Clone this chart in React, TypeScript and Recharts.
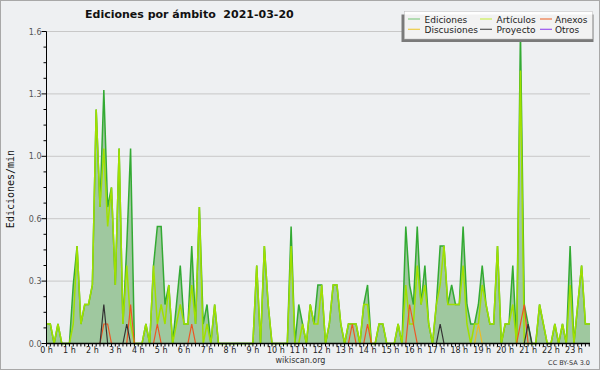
import React from "react";
import { ComposedChart, Area, Line, XAxis, YAxis, CartesianGrid, ReferenceLine } from "recharts";

// 10-minute buckets, edits per minute
const HOUR_LABELS = [
  "0 h", "1 h", "2 h", "3 h", "4 h", "5 h", "6 h", "7 h", "8 h", "9 h", "10 h", "11 h",
  "12 h", "13 h", "14 h", "15 h", "16 h", "17 h", "18 h", "19 h", "20 h", "21 h", "22 h", "23 h",
];

const Y_TICKS = [0, 0.32, 0.64, 0.96, 1.28, 1.6];

const ediciones = [
  0.1, 0.1, 0, 0.1, 0, 0, 0, 0.3, 0.5, 0.1, 0.2, 0.2,
  0.3, 1.2, 0.7, 1.3, 0.7, 0.8, 0.3, 1.0, 0.1, 0.5, 1.0, 0,
  0, 0, 0.1, 0, 0.4, 0.6, 0.6, 0.2, 0.3, 0, 0.2, 0.4,
  0.1, 0.1, 0.5, 0.1, 0.7, 0.1, 0.2, 0, 0.2, 0, 0, 0,
  0, 0, 0, 0, 0, 0, 0, 0.4, 0, 0.5, 0.2, 0,
  0, 0, 0, 0, 0.6, 0, 0.2, 0.1, 0, 0.2, 0.1, 0.3,
  0.3, 0, 0.1, 0.3, 0.3, 0.1, 0, 0.1, 0.1, 0.1, 0, 0.2,
  0.3, 0, 0, 0.1, 0.1, 0, 0, 0, 0.1, 0, 0.6, 0.3,
  0.2, 0.6, 0.2, 0.4, 0.1, 0, 0.2, 0.5, 0.5, 0.2, 0.3, 0.2,
  0.2, 0.6, 0.2, 0.1, 0.1, 0.2, 0.4, 0.2, 0.1, 0.1, 0.5, 0,
  0.1, 0.1, 0.4, 0, 1.6, 0.2, 0.1, 0, 0, 0.2, 0.1, 0,
  0, 0.1, 0, 0.1, 0, 0.5, 0, 0.2, 0.4, 0.1, 0.1, 0.1,
];

const articulos = [
  0.1, 0.1, 0, 0.1, 0, 0, 0, 0.1, 0.5, 0.1, 0.2, 0.2,
  0.3, 1.2, 0.7, 1.0, 0.6, 0.8, 0.3, 1.0, 0.1, 0.4, 0.1, 0,
  0, 0, 0.1, 0, 0.4, 0.1, 0.2, 0.1, 0.3, 0, 0.1, 0.2,
  0.1, 0.1, 0.3, 0.1, 0.7, 0, 0.1, 0, 0.2, 0, 0, 0,
  0, 0, 0, 0, 0, 0, 0, 0.4, 0, 0.5, 0.2, 0,
  0, 0, 0, 0, 0.5, 0, 0, 0.1, 0, 0.2, 0.1, 0.1,
  0.3, 0, 0.1, 0.3, 0.3, 0.1, 0, 0.1, 0.1, 0.1, 0, 0.2,
  0.2, 0, 0, 0.1, 0.1, 0, 0, 0, 0.1, 0, 0.3, 0.1,
  0.1, 0.4, 0.2, 0.3, 0.1, 0, 0.2, 0.3, 0.5, 0.2, 0.2, 0.2,
  0.2, 0.4, 0.1, 0, 0.1, 0.1, 0.3, 0.2, 0.1, 0.1, 0.5, 0,
  0.1, 0.1, 0.2, 0, 1.4, 0, 0, 0, 0, 0.2, 0.1, 0,
  0, 0.1, 0, 0.1, 0, 0.3, 0, 0.2, 0.4, 0.1, 0.1, 0.1,
];

const anexos = [
  0, 0, 0, 0, 0, 0, 0, 0, 0, 0, 0, 0,
  0, 0, 0, 0.1, 0.1, 0, 0, 0, 0, 0, 0.2, 0,
  0, 0, 0, 0, 0, 0.1, 0, 0, 0, 0, 0, 0,
  0, 0, 0.1, 0, 0, 0, 0, 0, 0, 0, 0, 0,
  0, 0, 0, 0, 0, 0, 0, 0, 0, 0, 0, 0,
  0, 0, 0, 0, 0, 0, 0, 0, 0, 0, 0, 0,
  0, 0, 0, 0, 0, 0, 0, 0, 0.1, 0, 0, 0,
  0.1, 0, 0, 0, 0, 0, 0, 0, 0, 0, 0, 0.2,
  0.1, 0, 0, 0, 0, 0, 0, 0, 0, 0, 0, 0,
  0, 0, 0, 0, 0, 0, 0, 0, 0, 0, 0, 0,
  0, 0, 0, 0, 0.1, 0.2, 0, 0, 0, 0, 0, 0,
  0, 0, 0, 0, 0, 0, 0, 0, 0, 0, 0, 0,
];

const discusiones = [
  0, 0, 0, 0, 0, 0, 0, 0, 0, 0, 0, 0,
  0, 0, 0, 0, 0, 0, 0, 0, 0, 0, 0, 0,
  0, 0, 0, 0, 0, 0, 0, 0, 0, 0, 0, 0,
  0, 0, 0, 0, 0, 0, 0, 0, 0, 0, 0, 0,
  0, 0, 0, 0, 0, 0, 0, 0, 0, 0, 0, 0,
  0, 0, 0, 0, 0, 0, 0, 0, 0, 0, 0, 0,
  0, 0, 0, 0, 0, 0, 0, 0, 0, 0, 0, 0,
  0, 0, 0, 0, 0, 0, 0, 0, 0, 0, 0, 0,
  0, 0, 0, 0, 0, 0, 0, 0, 0, 0, 0, 0,
  0, 0, 0, 0, 0, 0.1, 0, 0, 0, 0, 0, 0,
  0, 0, 0, 0, 0, 0, 0, 0, 0, 0, 0, 0,
  0, 0, 0, 0, 0, 0, 0, 0, 0, 0, 0, 0,
];

const proyecto = [
  0, 0, 0, 0, 0, 0, 0, 0, 0, 0, 0, 0,
  0, 0, 0, 0.2, 0, 0, 0, 0, 0, 0.1, 0, 0,
  0, 0, 0, 0, 0, 0, 0, 0, 0, 0, 0, 0,
  0, 0, 0, 0, 0, 0, 0, 0, 0, 0, 0, 0,
  0, 0, 0, 0, 0, 0, 0, 0, 0, 0, 0, 0,
  0, 0, 0, 0, 0, 0, 0, 0, 0, 0, 0, 0,
  0, 0, 0, 0, 0, 0, 0, 0, 0, 0, 0, 0,
  0, 0, 0, 0, 0, 0, 0, 0, 0, 0, 0, 0,
  0, 0, 0, 0, 0, 0, 0, 0.1, 0, 0, 0, 0,
  0, 0, 0, 0, 0, 0, 0, 0, 0, 0, 0, 0,
  0, 0, 0, 0, 0, 0, 0.1, 0, 0, 0, 0, 0,
  0, 0, 0, 0, 0, 0, 0, 0, 0, 0, 0, 0,
];

const otros = [
  0, 0, 0, 0, 0, 0, 0, 0, 0, 0, 0, 0,
  0, 0, 0, 0, 0, 0, 0, 0, 0, 0, 0, 0,
  0, 0, 0, 0, 0, 0, 0, 0, 0, 0, 0, 0,
  0, 0, 0, 0, 0, 0, 0, 0, 0, 0, 0, 0,
  0, 0, 0, 0, 0, 0, 0, 0, 0, 0, 0, 0,
  0, 0, 0, 0, 0, 0, 0, 0, 0, 0, 0, 0,
  0, 0, 0, 0, 0, 0, 0, 0, 0, 0, 0, 0,
  0, 0, 0, 0, 0, 0, 0, 0, 0, 0, 0, 0,
  0, 0, 0, 0, 0, 0, 0, 0, 0, 0, 0, 0,
  0, 0, 0, 0, 0, 0, 0, 0, 0, 0, 0, 0,
  0, 0, 0, 0, 0, 0, 0, 0, 0, 0, 0, 0,
  0, 0, 0, 0, 0, 0, 0, 0, 0, 0, 0, 0,
];

const LEGEND = [
  { name: "Ediciones", color: "#88cc88", col: 0, row: 0 },
  { name: "Artículos", color: "#ccee55", col: 1, row: 0 },
  { name: "Anexos", color: "#ee7744", col: 2, row: 0 },
  { name: "Discusiones", color: "#eecc44", col: 0, row: 1 },
  { name: "Proyecto", color: "#555555", col: 1, row: 1 },
  { name: "Otros", color: "#9955ee", col: 2, row: 1 },
];

const data = ediciones.map((ed, t) => ({
  t,
  ed,
  art: articulos[t],
  anx: anexos[t],
  dis: discusiones[t],
  pro: proyecto[t],
  otr: otros[t],
}));

const xTicks = data.slice(0, 143).map((d) => d.t);

// three minor ticks between each labelled tick
const yAllTicks = Y_TICKS.flatMap((v, i) =>
  i === 0 ? [v] : [1, 2, 3, 4].map((k) => Y_TICKS[i - 1] + ((v - Y_TICKS[i - 1]) * k) / 4)
);

const BG = "#eef0f2";
const FONT = "DejaVu Sans, sans-serif";

function YTick(props: any) {
  const { x, y, payload } = props;
  const major = Y_TICKS.some((v) => Math.abs(v - payload.value) < 1e-6);
  return (
    <g>
      <line x1={x - (major ? 5 : 3)} x2={x} y1={y} y2={y} stroke="#000" />
      {major && (
        <text x={x - 5} y={y + 3} textAnchor="end" fontSize={8} fontFamily={FONT} fill="#555">
          {payload.value.toFixed(1)}
        </text>
      )}
    </g>
  );
}

function XTick(props: any) {
  const { x, y, payload } = props;
  const t = payload.value;
  return (
    <g>
      <line x1={x} x2={x} y1={y} y2={y + 3} stroke="#000" />
      {t % 6 === 0 && (
        <text x={x} y={y + 9.5} textAnchor="middle" fontSize={8} fontFamily={FONT} fill="#222">
          {HOUR_LABELS[t / 6]}
        </text>
      )}
    </g>
  );
}

export default function App() {
  return (
    <div style={{ position: "absolute", left: 0, top: 0, width: 600, height: 370, background: BG }}>
      <ComposedChart
        width={600}
        height={370}
        data={data}
        margin={{ top: 31.5, right: 10, left: 0, bottom: 12.5 }}
      >
        <CartesianGrid
          vertical={false}
          horizontalValues={[0.32, 0.64, 0.96, 1.28, 1.6]}
          stroke="#c8c8c8"
        />
        <Area
          type="linear"
          dataKey="ed"
          stroke="#33aa33"
          strokeWidth={1.5}
          fill="#9fc89f"
          fillOpacity={1}
          dot={false}
          activeDot={false}
          isAnimationActive={false}
        />
        <Line type="linear" dataKey="art" stroke="#a0e000" strokeWidth={1.5} dot={false} activeDot={false} isAnimationActive={false} />
        <Line type="linear" dataKey="dis" stroke="#eebb22" strokeWidth={1.2} dot={false} activeDot={false} isAnimationActive={false} />
        <Line type="linear" dataKey="anx" stroke="#ee5522" strokeWidth={1.2} dot={false} activeDot={false} isAnimationActive={false} />
        <Line type="linear" dataKey="pro" stroke="#333333" strokeWidth={1.2} dot={false} activeDot={false} isAnimationActive={false} />
        <Line type="linear" dataKey="otr" stroke="#8844ee" strokeWidth={1.2} dot={false} activeDot={false} isAnimationActive={false} />
        <ReferenceLine y={0} stroke="#000" strokeWidth={1.5} />
        <XAxis
          dataKey="t"
          type="number"
          domain={[0, 142.2]}
          allowDataOverflow
          ticks={xTicks}
          interval={0}
          height={14}
          tickSize={0}
          tickMargin={0}
          tickLine={false}
          tick={<XTick />}
          axisLine={{ stroke: "#000" }}
        />
        <YAxis
          type="number"
          domain={[0, 1.6]}
          ticks={yAllTicks}
          interval={0}
          width={46.5}
          tickSize={0}
          tickMargin={0}
          tickLine={false}
          tick={<YTick />}
          axisLine={{ stroke: "#000" }}
        />
      </ComposedChart>
      <svg width={600} height={370} style={{ position: "absolute", left: 0, top: 0, pointerEvents: "none" }}>
        <rect x={0.5} y={0.5} width={599} height={369} fill="none" stroke="#a8a8a8" />
        <text x={85} y={17.5} fontSize={11} fontWeight="bold" fontFamily={FONT} fill="#111" style={{ whiteSpace: "pre" }}>
          {"Ediciones por ámbito  2021-03-20"}
        </text>
        <text
          transform="translate(13.5,189) rotate(-90)"
          textAnchor="middle"
          fontSize={10}
          fontFamily="DejaVu Sans Mono, monospace"
          fill="#111"
        >
          Ediciones/min
        </text>
        <text x={300.5} y={363} textAnchor="middle" fontSize={8} fontFamily={FONT} fill="#333">
          wikiscan.org
        </text>
        <text x={590} y={365} textAnchor="end" fontSize={6.5} fontFamily={FONT} fill="#333">
          CC BY-SA 3.0
        </text>
        <rect x={401.5} y={14.5} width={192} height={27.5} fill="#7a7a7a" />
        <rect x={404.5} y={11.5} width={188} height={27.5} fill="rgba(255,255,255,0.9)" stroke="#bbb" strokeWidth={0.5} />
        {LEGEND.map((l) => {
          const lx = [408, 480, 540][l.col];
          const tx = [424.5, 496.5, 555][l.col];
          const ly = l.row === 0 ? 19 : 29.3;
          const ty = l.row === 0 ? 22.5 : 32.5;
          return (
            <g key={l.name}>
              <line x1={lx} x2={lx + 12} y1={ly} y2={ly} stroke={l.color} strokeWidth={1.2} />
              <text x={tx} y={ty} fontSize={9} fontFamily={FONT} fill="#222">
                {l.name}
              </text>
            </g>
          );
        })}
      </svg>
    </div>
  );
}
